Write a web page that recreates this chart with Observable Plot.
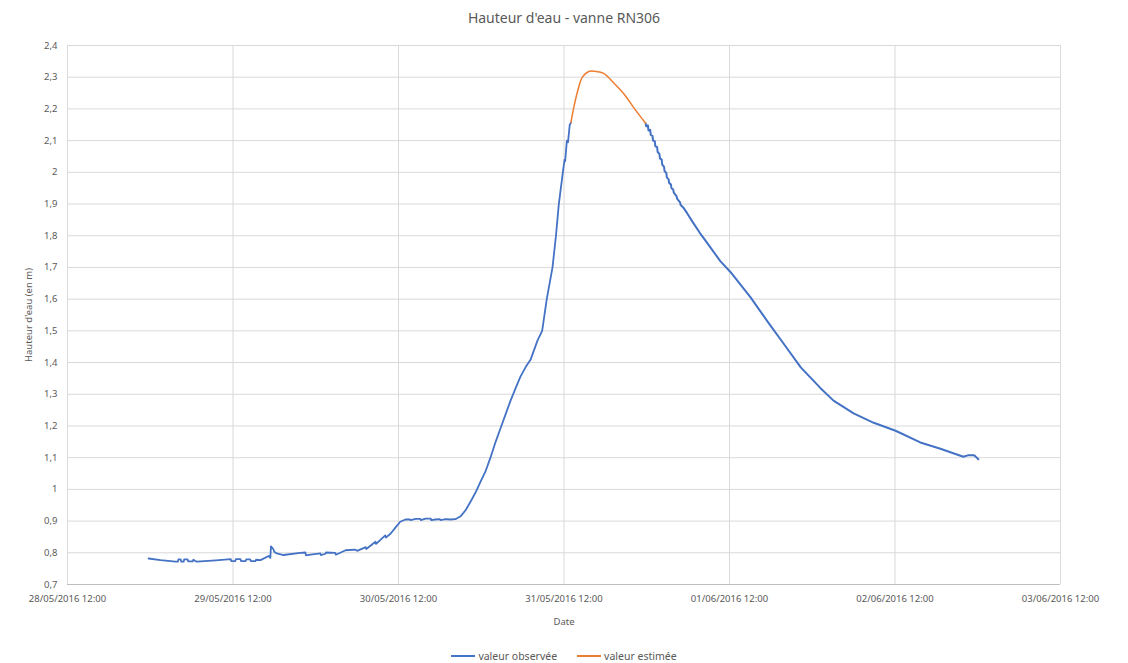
<!DOCTYPE html>
<html>
<head>
<meta charset="utf-8">
<script src="https://cdn.jsdelivr.net/npm/d3@7"></script>
<script src="https://cdn.jsdelivr.net/npm/@observablehq/plot@0.6"></script>
<style>
  html, body { margin: 0; padding: 0; background: #fff; }
  body { width: 1128px; height: 663px; overflow: hidden; font-family: "Noto Sans", "Open Sans", sans-serif; color: #595959; }
  #title { height: 34px; line-height: 36px; text-align: center; font-size: 14px; color: #595959; }
  #legend { display: flex; justify-content: center; align-items: center; gap: 20px; font-size: 10.5px; color: #595959; margin-top: 9px; padding-left: 0px; }
  #legend span { display: inline-flex; align-items: center; }
  #legend i { display: inline-block; width: 24px; height: 2px; margin-right: 3px; }
</style>
</head>
<body>
<div id="title">Hauteur d'eau - vanne RN306</div>
<div id="chart"></div>
<div id="legend">
  <span><i style="background:#4472c4"></i>valeur observée</span>
  <span><i style="background:#ed7d31"></i>valeur estimée</span>
</div>
<script>
// ---- data ----
const obsTime = [
  "28/05/2016 23:45","29/05/2016 01:30","29/05/2016 03:40","29/05/2016 04:00","29/05/2016 04:05","29/05/2016 04:25","29/05/2016 04:30","29/05/2016 04:50","29/05/2016 04:55","29/05/2016 05:25","29/05/2016 05:30","29/05/2016 06:10","29/05/2016 06:15","29/05/2016 06:45",
  "29/05/2016 09:30","29/05/2016 11:40","29/05/2016 11:45","29/05/2016 12:20","29/05/2016 12:25","29/05/2016 13:05","29/05/2016 13:10","29/05/2016 13:50","29/05/2016 13:55","29/05/2016 14:30","29/05/2016 14:35","29/05/2016 15:15","29/05/2016 15:20","29/05/2016 16:00",
  "29/05/2016 17:10","29/05/2016 17:25","29/05/2016 17:30","29/05/2016 17:50","29/05/2016 18:00","29/05/2016 18:20","29/05/2016 18:55","29/05/2016 19:20",
  "29/05/2016 21:45","29/05/2016 22:30","29/05/2016 22:35","29/05/2016 23:15","30/05/2016 00:40","30/05/2016 00:45","30/05/2016 01:25","30/05/2016 01:30","30/05/2016 02:50","30/05/2016 02:55",
  "30/05/2016 04:20","30/05/2016 05:45","30/05/2016 06:00","30/05/2016 07:15","30/05/2016 07:20","30/05/2016 08:40","30/05/2016 08:45","30/05/2016 10:05","30/05/2016 10:10","30/05/2016 10:50","30/05/2016 11:35","30/05/2016 12:15",
  "30/05/2016 13:00","30/05/2016 13:40","30/05/2016 13:45","30/05/2016 14:30","30/05/2016 15:10","30/05/2016 15:15","30/05/2016 15:55","30/05/2016 16:40","30/05/2016 16:45","30/05/2016 17:20","30/05/2016 18:00","30/05/2016 18:05","30/05/2016 18:50","30/05/2016 19:30","30/05/2016 20:15",
  "30/05/2016 21:00","30/05/2016 21:45","30/05/2016 22:25","30/05/2016 23:10","30/05/2016 23:55","31/05/2016 00:35","31/05/2016 01:20","31/05/2016 02:05","31/05/2016 02:50","31/05/2016 03:30","31/05/2016 04:15","31/05/2016 05:00","31/05/2016 05:40",
  "31/05/2016 06:25","31/05/2016 07:10","31/05/2016 07:40","31/05/2016 08:10","31/05/2016 08:50","31/05/2016 09:30","31/05/2016 10:20","31/05/2016 10:50","31/05/2016 11:15","31/05/2016 11:50","31/05/2016 12:05","31/05/2016 12:10","31/05/2016 12:25","31/05/2016 12:35","31/05/2016 12:50","31/05/2016 13:00"
];
const obsValue = [
  0.782,0.777,0.772,0.772,0.779,0.779,0.772,0.772,0.779,0.779,0.773,0.773,0.778,0.772,
  0.776,0.780,0.774,0.774,0.780,0.780,0.774,0.774,0.779,0.779,0.774,0.774,0.778,0.777,
  0.790,0.784,0.820,0.812,0.803,0.798,0.795,0.793,
  0.800,0.801,0.792,0.794,0.798,0.793,0.797,0.801,0.800,0.794,
  0.808,0.810,0.806,0.818,0.812,0.835,0.828,0.855,0.848,0.860,0.880,0.898,
  0.905,0.905,0.903,0.907,0.907,0.903,0.908,0.908,0.903,0.905,0.906,0.903,0.906,0.905,0.906,
  0.915,0.935,0.960,0.990,1.025,1.055,1.100,1.150,1.195,1.235,1.280,1.320,1.355,
  1.385,1.410,1.440,1.470,1.500,1.600,1.700,1.800,1.900,2.000,2.040,2.035,2.100,2.095,2.150,2.157
];
const estTime = [
  "31/05/2016 13:00","31/05/2016 13:25","31/05/2016 14:00","31/05/2016 14:40","31/05/2016 15:35","31/05/2016 16:35","31/05/2016 17:45","31/05/2016 19:10","31/05/2016 20:40","31/05/2016 22:05","31/05/2016 23:50"
];
const estValue = [2.157,2.204,2.258,2.300,2.318,2.318,2.312,2.283,2.248,2.205,2.155];
const obs2Time = [
  "31/05/2016 23:50","31/05/2016 23:55","01/06/2016 00:10","01/06/2016 00:15","01/06/2016 00:30","01/06/2016 00:35","01/06/2016 00:50","01/06/2016 00:55","01/06/2016 01:10","01/06/2016 01:15",
  "01/06/2016 01:30","01/06/2016 01:35","01/06/2016 01:50","01/06/2016 01:55","01/06/2016 02:10","01/06/2016 02:15","01/06/2016 02:30","01/06/2016 02:35","01/06/2016 02:50","01/06/2016 02:55",
  "01/06/2016 03:10","01/06/2016 03:15","01/06/2016 03:30","01/06/2016 03:35","01/06/2016 03:50","01/06/2016 03:55","01/06/2016 04:20","01/06/2016 04:25","01/06/2016 04:50","01/06/2016 04:55",
  "01/06/2016 05:20","01/06/2016 05:50","01/06/2016 06:40","01/06/2016 07:40","01/06/2016 08:50","01/06/2016 10:40","01/06/2016 12:10","01/06/2016 15:05","01/06/2016 17:30","01/06/2016 19:50","01/06/2016 22:20",
  "02/06/2016 01:10","02/06/2016 03:05","02/06/2016 06:00","02/06/2016 08:55","02/06/2016 12:05","02/06/2016 15:40","02/06/2016 18:35","02/06/2016 21:55","02/06/2016 22:40","02/06/2016 23:25","02/06/2016 23:40","03/06/2016 00:05"
];
const obs2Value = [
  2.155,2.145,2.148,2.132,2.134,2.118,2.115,2.100,2.098,2.082,
  2.080,2.064,2.058,2.044,2.040,2.024,2.018,2.004,1.998,1.984,
  1.978,1.966,1.962,1.950,1.946,1.936,1.924,1.916,1.905,1.897,
  1.888,1.872,1.843,1.810,1.775,1.720,1.685,1.605,1.530,1.460,1.385,
  1.320,1.280,1.240,1.210,1.185,1.148,1.128,1.103,1.108,1.108,1.104,1.095
];
const xTickLabels = ["28/05/2016 12:00","29/05/2016 12:00","30/05/2016 12:00","31/05/2016 12:00","01/06/2016 12:00","02/06/2016 12:00","03/06/2016 12:00"];
const yTicks = [0.7,0.8,0.9,1.0,1.1,1.2,1.3,1.4,1.5,1.6,1.7,1.8,1.9,2.0,2.1,2.2,2.3,2.4];

// ---- build ----
const parse = d3.utcParse("%d/%m/%Y %H:%M");
const observed1 = obsTime.map((t, i) => ({t: parse(t), v: obsValue[i]}));
const observed2 = obs2Time.map((t, i) => ({t: parse(t), v: obs2Value[i]}));
const estimated = estTime.map((t, i) => ({t: parse(t), v: estValue[i]}));
const xTicks = xTickLabels.map(parse);
const fmtY = d => String(+d.toFixed(1)).replace(".", ",");

const chart = Plot.plot({
  width: 1128,
  height: 606,
  marginLeft: 67,
  marginRight: 68,
  marginTop: 11,
  marginBottom: 56,
  style: {fontFamily: "'Noto Sans', 'Open Sans', sans-serif", fontSize: "9.5px", color: "#595959", background: "white"},
  x: {
    type: "utc",
    domain: [xTicks[0], xTicks[xTicks.length - 1]],
    ticks: xTicks,
    tickFormat: d3.utcFormat("%d/%m/%Y %H:%M"),
    tickSize: 0,
    tickPadding: 11,
    label: "Date",
    labelAnchor: "center",
    labelArrow: "none",
    labelOffset: 40
  },
  y: {
    domain: [0.7, 2.4],
    ticks: yTicks,
    tickFormat: fmtY,
    tickSize: 0,
    tickPadding: 10,
    label: "Hauteur d'eau (en m)",
    labelAnchor: "center",
    labelArrow: "none",
    labelOffset: 42
  },
  marks: [
    Plot.gridX(xTicks, {stroke: "#d9d9d9", strokeOpacity: 1, strokeWidth: 1}),
    Plot.gridY(yTicks, {stroke: "#d9d9d9", strokeOpacity: 1, strokeWidth: 1}),
    Plot.ruleY([0.7], {stroke: "#bfbfbf", strokeWidth: 1}),
    Plot.line(observed1, {x: "t", y: "v", stroke: "#4472c4", strokeWidth: 1.8}),
    Plot.line(observed2, {x: "t", y: "v", stroke: "#4472c4", strokeWidth: 2}),
    Plot.line(estimated, {x: "t", y: "v", stroke: "#ed7d31", strokeWidth: 1.5, curve: "catmull-rom"})
  ]
});
document.getElementById("chart").appendChild(chart);
</script>
</body>
</html>
